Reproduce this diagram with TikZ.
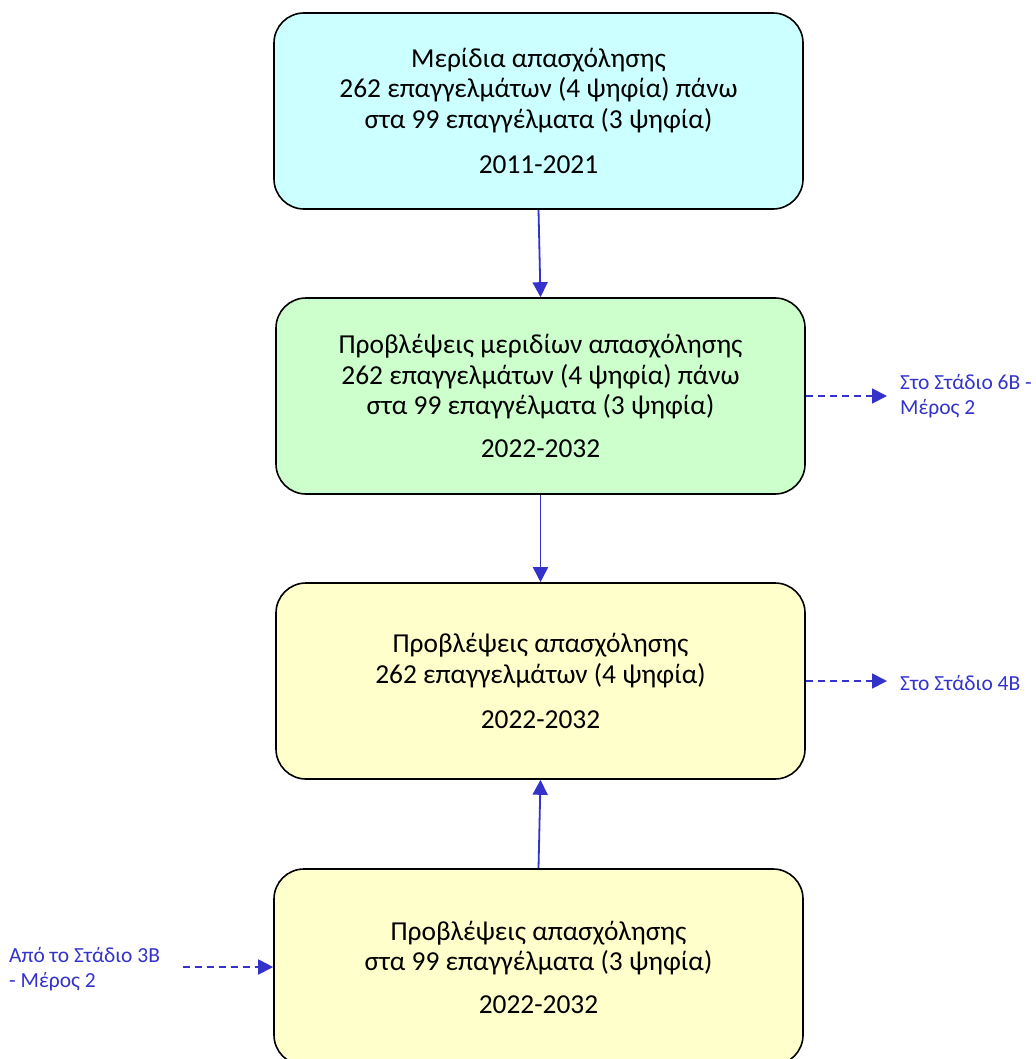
\documentclass[tikz,border=0pt]{standalone}
\usepackage{fontspec}
\setmainfont{Carlito}
\usetikzlibrary{arrows.meta}
\definecolor{boxcyan}{HTML}{CCFFFF}
\definecolor{boxgreen}{HTML}{CCFFCC}
\definecolor{boxyellow}{HTML}{FFFFCC}
\definecolor{linkblue}{HTML}{3333CC}
\tikzset{
  stepbox/.style={draw=black, line width=1.6pt, rounded corners=30pt,
    minimum width=529pt, minimum height=196pt, align=center, inner sep=0pt,
    font=\fontsize{27.4}{30.5}\selectfont, text=black},
  conn/.style={draw=linkblue, line width=1.8pt, -{Triangle[length=15pt,width=15pt]}},
  dconn/.style={draw=linkblue, line width=1.8pt, dash pattern=on 7pt off 5pt, -{Triangle[length=15pt,width=15pt]}},
  sidelabel/.style={text=linkblue, align=left, inner sep=0pt, font=\fontsize{21.5}{25}\selectfont}
}
\begin{document}
\begin{tikzpicture}[x=1pt,y=-1pt]
\clip (0,0) rectangle (1035,1059);
\node[stepbox, fill=boxcyan] (b1) at (538.5,111) {Μερίδια απασχόλησης\\262 επαγγελμάτων (4 ψηφία) πάνω\\στα 99 επαγγέλματα (3 ψηφία)\\[15pt]2011-2021};
\node[stepbox, fill=boxgreen] (b2) at (540.5,396) {Προβλέψεις μεριδίων απασχόλησης\\262 επαγγελμάτων (4 ψηφία) πάνω\\στα 99 επαγγέλματα (3 ψηφία)\\[12pt]2022-2032};
\node[stepbox, fill=boxyellow] (b3) at (540.5,681) {Προβλέψεις απασχόλησης\\262 επαγγελμάτων (4 ψηφία)\\[15pt]2022-2032};
\node[stepbox, fill=boxyellow] (b4) at (538.5,967) {Προβλέψεις απασχόλησης\\στα 99 επαγγέλματα (3 ψηφία)\\[12pt]2022-2032};
\draw[conn] (b1.south) -- (b2.north);
\draw[conn] (b2.south) -- (b3.north);
\draw[conn] (b4.north) -- (b3.south);
\coordinate (e2) at (887,396);
\coordinate (e3) at (887,681);
\coordinate (s4) at (183,967);
\draw[dconn] (b2.east) -- (e2);
\draw[dconn] (b3.east) -- (e3);
\draw[dconn] (s4) -- (b4.west);
\node[sidelabel, anchor=west] (l2) at (900,396.5) {Στο Στάδιο 6Β -\\Μέρος 2};
\node[sidelabel, anchor=west] (l3) at (900,683) {Στο Στάδιο 4Β};
\node[sidelabel, anchor=west] (l4) at (9,969) {Από το Στάδιο 3Β\\- Μέρος 2};
\end{tikzpicture}
\end{document}
